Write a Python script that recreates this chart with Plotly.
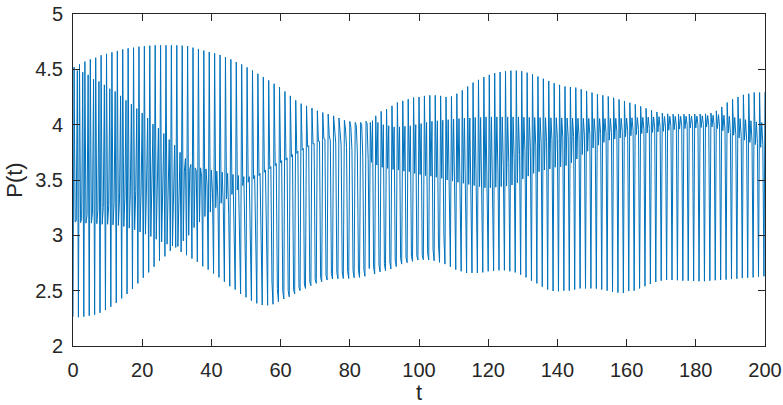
import numpy as np
import plotly.graph_objects as go

# P(t) sampled five times per oscillation cycle; values listed per sample slot (cycle by cycle)
slot0 = [2.265, 2.26, 2.265, 2.274, 2.283, 2.30, 2.325, 2.355, 2.39, 2.43,
         2.47, 2.515, 2.566, 2.617, 2.665, 2.716, 2.77, 2.81, 2.86, 2.89,
         2.95, 3.00, 3.07, 3.12, 3.17, 3.21, 3.25, 3.29, 3.33, 3.37,
         3.41, 3.45, 3.48, 3.51, 3.54, 3.57, 3.60, 3.63, 3.655, 3.68,
         3.71, 3.74, 3.77, 3.80, 3.825, 3.85, 3.875, 3.90, 3.92, 3.94,
         3.96, 3.975, 3.99, 4.00, 4.01, 4.02, 4.08, 4.12, 4.14, 4.17,
         4.20, 4.215, 4.23, 4.245, 4.25, 4.26, 4.265, 4.265, 4.26, 4.25,
         4.255, 4.28, 4.31, 4.345, 4.38, 4.405, 4.43, 4.45, 4.465, 4.475,
         4.483, 4.488, 4.488, 4.483, 4.47, 4.455, 4.435, 4.415, 4.395, 4.375,
         4.36, 4.345, 4.34, 4.335, 4.32, 4.305, 4.29, 4.275, 4.265, 4.255,
         4.243, 4.228, 4.213, 4.198, 4.183, 4.165, 4.148, 4.13, 4.115, 4.104,
         4.098, 4.095, 4.094, 4.095, 4.096, 4.096, 4.096, 4.098, 4.105, 4.125,
         4.16, 4.20, 4.23, 4.25, 4.27, 4.28, 4.29, 4.29, 4.295]
slot1 = [3.13, 3.15, 3.18, 3.20, 3.225, 3.25, 3.27, 3.295, 3.32, 3.345,
         3.37, 3.395, 3.42, 3.445, 3.465, 3.48, 3.50, 3.515, 3.53, 3.545,
         3.58, 3.60, 3.61, 3.61, 3.60, 3.59, 3.58, 3.57, 3.56, 3.55,
         3.54, 3.53, 3.53, 3.54, 3.56, 3.59, 3.62, 3.65, 3.675, 3.70,
         3.73, 3.76, 3.785, 3.81, 3.83, 3.85, 3.87, 3.855, 3.835, 3.815,
         3.795, 3.77, 3.745, 3.715, 3.685, 3.66, 3.635, 3.615, 3.605, 3.595,
         3.59, 3.58, 3.575, 3.56, 3.55, 3.54, 3.535, 3.525, 3.515, 3.50,
         3.49, 3.48, 3.47, 3.46, 3.45, 3.44, 3.43, 3.43, 3.435, 3.44,
         3.445, 3.455, 3.475, 3.51, 3.535, 3.56, 3.575, 3.59, 3.60, 3.615,
         3.62, 3.63, 3.655, 3.69, 3.73, 3.76, 3.79, 3.815, 3.84, 3.86,
         3.87, 3.88, 3.89, 3.90, 3.91, 3.92, 3.925, 3.93, 3.935, 3.94,
         3.95, 3.955, 3.96, 3.965, 3.97, 3.97, 3.975, 3.98, 3.98, 3.965,
         3.945, 3.925, 3.905, 3.88, 3.86, 3.84, 3.82, 3.795]
slot2 = [4.52, 4.545, 4.57, 4.59, 4.605, 4.627, 4.64, 4.654, 4.666, 4.68,
         4.69, 4.696, 4.705, 4.71, 4.714, 4.717, 4.717, 4.717, 4.717, 4.717,
         4.714, 4.71, 4.696, 4.684, 4.67, 4.657, 4.645, 4.63, 4.61, 4.59,
         4.566, 4.545, 4.518, 4.49, 4.46, 4.43, 4.40, 4.37, 4.34, 4.30,
         4.26, 4.22, 4.19, 4.17, 4.15, 4.126, 4.11, 4.096, 4.08, 4.06,
         4.04, 4.03, 4.02, 4.02, 4.03, 4.036, 4.02, 4.00, 3.99, 3.98,
         3.98, 3.985, 3.99, 4.00, 4.01, 4.02, 4.03, 4.035, 4.04, 4.045,
         4.05, 4.055, 4.06, 4.06, 4.065, 4.065, 4.07, 4.07, 4.07, 4.07,
         4.07, 4.07, 4.07, 4.068, 4.066, 4.065, 4.064, 4.063, 4.062, 4.062,
         4.061, 4.06, 4.06, 4.058, 4.057, 4.056, 4.055, 4.055, 4.055, 4.056,
         4.057, 4.058, 4.06, 4.062, 4.064, 4.066, 4.068, 4.07, 4.072, 4.074,
         4.075, 4.075, 4.075, 4.076, 4.077, 4.078, 4.08, 4.082, 4.085, 4.09,
         4.085, 4.075, 4.065, 4.055, 4.045, 4.035, 4.025, 4.02]
slot3 = [4.49, 4.475, 4.45, 4.41, 4.39, 4.36, 4.325, 4.30, 4.26, 4.22,
         4.185, 4.145, 4.105, 4.06, 4.005, 3.97, 3.92, 3.865, 3.815, 3.75,
         3.695, 3.64, 3.585, 3.525, 3.455, 3.39, 3.33, 3.26, 3.19, 3.12,
         3.05, 2.98, 2.90, 2.82, 2.74, 2.67, 2.58, 2.52, 2.50, 2.50,
         2.51, 2.53, 2.56, 2.58, 2.60, 2.62, 2.64, 2.655, 2.665, 2.67,
         2.675, 2.68, 2.685, 2.69, 2.70, 2.715, 2.73, 2.745, 2.76, 2.775,
         2.79, 2.80, 2.81, 2.815, 2.82, 2.84, 2.87, 2.92, 3.00, 3.08,
         3.16, 3.24, 3.31, 3.37, 3.42, 3.46, 3.50, 3.54, 3.58, 3.62,
         3.66, 3.70, 3.73, 3.76, 3.79, 3.81, 3.83, 3.85, 3.865, 3.875,
         3.885, 3.89, 3.895, 3.90, 3.905, 3.91, 3.915, 3.92, 3.925, 3.93,
         3.935, 3.94, 3.945, 3.95, 3.955, 3.96, 3.965, 3.97, 3.975, 3.98,
         3.985, 3.99, 3.99, 3.995, 4.00, 4.00, 4.00, 3.995, 3.99, 3.98,
         3.96, 3.93, 3.91, 3.89, 3.87, 3.85, 3.83, 3.82]
slot4 = [3.12, 3.115, 3.11, 3.11, 3.105, 3.10, 3.10, 3.095, 3.09, 3.08,
         3.065, 3.05, 3.03, 3.01, 2.99, 2.965, 2.94, 2.92, 2.905, 2.90,
         2.85, 2.82, 2.79, 2.76, 2.72, 2.69, 2.655, 2.62, 2.58, 2.54,
         2.51, 2.47, 2.44, 2.41, 2.385, 2.37, 2.368, 2.377, 2.40, 2.425,
         2.445, 2.47, 2.50, 2.52, 2.545, 2.566, 2.58, 2.596, 2.605, 2.608,
         2.61, 2.61, 2.617, 2.62, 2.63, 2.65, 2.67, 2.68, 2.696, 2.717,
         2.74, 2.753, 2.765, 2.777, 2.78, 2.777, 2.77, 2.756, 2.74, 2.717,
         2.69, 2.675, 2.66, 2.66, 2.66, 2.665, 2.675, 2.68, 2.684, 2.684,
         2.675, 2.665, 2.644, 2.62, 2.59, 2.566, 2.536, 2.51, 2.497, 2.494,
         2.50, 2.50, 2.51, 2.52, 2.52, 2.52, 2.518, 2.51, 2.50, 2.488,
         2.482, 2.479, 2.497, 2.50, 2.52, 2.54, 2.56, 2.578, 2.59, 2.596,
         2.596, 2.594, 2.59, 2.59, 2.587, 2.585, 2.585, 2.59, 2.594, 2.596,
         2.60, 2.605, 2.608, 2.614, 2.617, 2.62, 2.626, 2.63]

t_start, t_end = 0, 200
x_ticks = [0, 20, 40, 60, 80, 100, 120, 140, 160, 180, 200]
y_ticks = [2, 2.5, 3, 3.5, 4, 4.5, 5]
y_tick_text = ["2", "2.5", "3", "3.5", "4", "4.5", "5"]

# order in which the five slots are visited inside a cycle (the sampling aliases differently over time)
orders = [(0, 2, 4, 1, 3), (4, 2, 0, 1, 3), (0, 1, 2, 3, 4)]
order_starts = [0, 20, 55]   # first cycle using each order

slots = [slot0, slot1, slot2, slot3, slot4]
n_cycles = len(slot1)
P = []
for i in range(n_cycles):
    k = max(j for j, s in enumerate(order_starts) if i >= s)
    P.extend(slots[s][i] for s in orders[k])
P.append(slot0[n_cycles])
t = np.linspace(t_start, t_end, len(P))

ink = "#262626"
font_family = "Liberation Sans, Arial, Helvetica, sans-serif"

fig = go.Figure()
fig.add_trace(go.Scatter(x=t, y=P, mode="lines",
                         line=dict(color="#0072BD", width=1),
                         hoverinfo="skip", showlegend=False))

axis_common = dict(showline=True, linecolor=ink, linewidth=1, mirror="ticks",
                   ticks="inside", ticklen=7, tickwidth=1, tickcolor=ink,
                   showgrid=False, zeroline=False,
                   tickfont=dict(family=font_family, size=20, color=ink))

fig.update_xaxes(range=[t_start, t_end], tickvals=x_ticks, ticklabelstandoff=6,
                 title=dict(text="t", font=dict(family=font_family, size=22, color=ink), standoff=4),
                 **axis_common)
fig.update_yaxes(range=[2, 5], tickvals=y_ticks, ticktext=y_tick_text, ticklabelstandoff=5,
                 title=dict(text="P(t)", font=dict(family=font_family, size=22, color=ink), standoff=6),
                 **axis_common)

fig.update_layout(width=783, height=405, margin=dict(l=73, r=18, t=14, b=59),
                  paper_bgcolor="white", plot_bgcolor="white", template="none")

fig.write_html("out.html", config={"displayModeBar": False})
